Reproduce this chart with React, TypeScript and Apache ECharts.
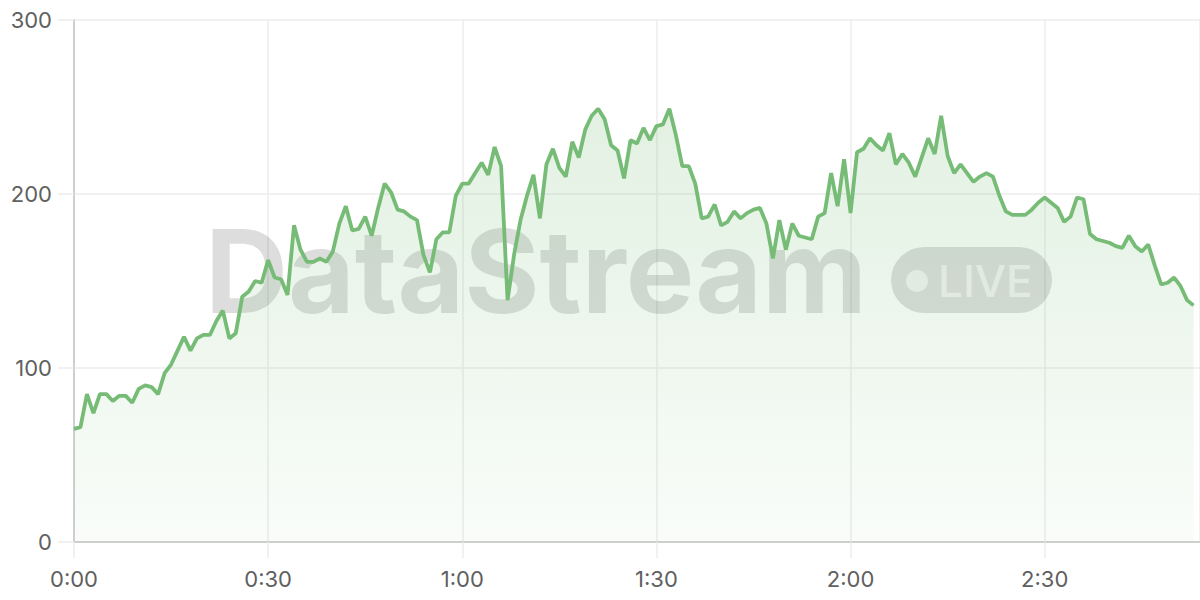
import React, { useEffect, useRef } from "react";
import * as echarts from "echarts";

// Seconds elapsed since start (one reading per second)
const values: number[] = [
  65, 66, 85, 74, 85, 85, 81, 84, 84, 80,
  88, 90, 89, 85, 97, 102, 110, 118, 110, 117,
  119, 119, 127, 133, 117, 120, 141, 144, 150, 149,
  162, 152, 151, 142, 182, 168, 161, 161, 163, 161,
  167, 183, 193, 179, 180, 187, 176, 192, 206, 201,
  191, 190, 187, 185, 165, 155, 174, 178, 178, 199,
  206, 206, 212, 218, 211, 227, 216, 139, 165, 185,
  199, 211, 186, 217, 226, 215, 210, 230, 221, 237,
  245, 249, 243, 228, 225, 209, 231, 229, 238, 231,
  239, 240, 249, 234, 216, 216, 206, 186, 187, 194,
  182, 184, 190, 186, 189, 191, 192, 183, 163, 185,
  168, 183, 176, 175, 174, 187, 189, 212, 193, 220,
  189, 224, 226, 232, 228, 225, 235, 217, 223, 218,
  210, 221, 232, 223, 245, 222, 212, 217, 212, 207,
  210, 212, 210, 199, 190, 188, 188, 188, 191, 195,
  198, 195, 192, 184, 187, 198, 197, 177, 174, 173,
  172, 170, 169, 176, 170, 167, 171, 159, 148, 149,
  152, 147, 139, 136,
];

const xMax = 174;
const xInterval = 30;
const yMin = 0;
const yMax = 300;
const yInterval = 100;

const watermarkText = "DataStream";
const badgeText = "LIVE";

function fmtTime(v: number): string {
  const m = Math.floor(v / 60);
  const s = Math.round(v % 60);
  return `${m}:${String(s).padStart(2, "0")}`;
}

export default function App() {
  const ref = useRef<HTMLDivElement>(null);

  useEffect(() => {
    if (!ref.current) return;
    const chart = echarts.init(ref.current, null, { renderer: "svg" });
    const labelColor = "#606060";
    const labelFont = "Inter, 'Noto Sans', sans-serif";
    const wmFill = "rgba(0,0,0,0.135)";

    chart.setOption({
      animation: false,
      backgroundColor: "#ffffff",
      grid: { left: 74, right: 0, top: 20, bottom: 58, containLabel: false },
      xAxis: {
        type: "value",
        min: 0,
        max: xMax,
        interval: xInterval,
        axisLine: { show: true, lineStyle: { color: "#cfcfcf", width: 2 } },
        axisTick: { show: true, length: 16, lineStyle: { color: "#ececec", width: 1.5 } },
        axisLabel: {
          color: labelColor,
          fontSize: 22,
          fontFamily: labelFont,
          margin: 26,
          showMaxLabel: false,
          formatter: (v: number) => fmtTime(v),
        },
        splitLine: { show: true, lineStyle: { color: "#ececec", width: 1.5 } },
      },
      yAxis: {
        type: "value",
        min: yMin,
        max: yMax,
        interval: yInterval,
        axisLine: { show: true, lineStyle: { color: "#cfcfcf", width: 2 } },
        axisTick: { show: true, length: 16, lineStyle: { color: "#ececec", width: 1.5 } },
        axisLabel: {
          color: labelColor,
          fontSize: 22,
          fontFamily: labelFont,
          margin: 22,
        },
        splitLine: { show: true, lineStyle: { color: "#ececec", width: 1.5 } },
      },
      graphic: [
        {
          type: "text",
          z: 1,
          style: {
            text: watermarkText,
            x: 205,
            y: 271,
            fill: wmFill,
            font: "700 115px Inter, 'Liberation Sans', Arial, sans-serif",
            textAlign: "left",
            textVerticalAlign: "middle",
          },
        },
        {
          type: "rect",
          z: 1,
          shape: { x: 891, y: 247, width: 161, height: 66, r: 33 },
          style: { fill: wmFill },
        },
        {
          type: "circle",
          z: 1,
          shape: { cx: 917, cy: 281, r: 11 },
          style: { fill: "rgba(255,255,255,0.65)" },
        },
        {
          type: "text",
          z: 1,
          style: {
            text: badgeText,
            x: 938,
            y: 281,
            fill: "rgba(255,255,255,0.65)",
            font: "500 44px Inter, 'Liberation Sans', Arial, sans-serif",
            textAlign: "left",
            textVerticalAlign: "middle",
          },
        },
      ],
      series: [
        {
          type: "line",
          data: values.map((v, i) => [i, v]),
          showSymbol: false,
          symbol: "none",
          lineStyle: { color: "#76bc76", width: 3.8 },
          areaStyle: {
            color: new echarts.graphic.LinearGradient(0, 0, 0, 1, [
              { offset: 0, color: "rgba(118,188,118,0.30)" },
              { offset: 1, color: "rgba(118,188,118,0.06)" },
            ]),
          },
          z: 3,
        },
      ],
    });

    return () => chart.dispose();
  }, []);

  return (
    <div
      ref={ref}
      style={{ position: "absolute", left: 0, top: 0, width: 1200, height: 600 }}
    />
  );
}
